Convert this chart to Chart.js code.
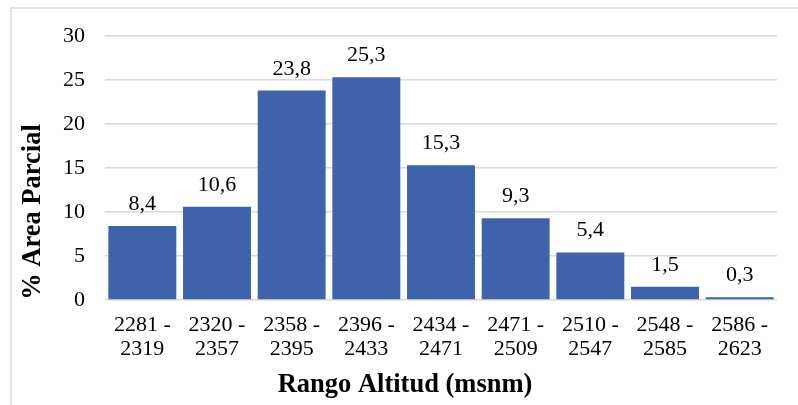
<!DOCTYPE html>
<html>
<head>
<meta charset="utf-8">
<script src="https://cdn.jsdelivr.net/npm/chart.js@4/dist/chart.umd.min.js"></script>
<style>
  html, body { margin: 0; padding: 0; background: #fff; }
  #wrap { width: 798px; height: 405px; position: relative; }
</style>
</head>
<body>
<div id="wrap"><canvas id="c"></canvas></div>
<script>
// Altitude ranges (msnm) and share of partial area per range (%)
const rangeStart = ['2281', '2320', '2358', '2396', '2434', '2471', '2510', '2548', '2586'];
const rangeEnd   = ['2319', '2357', '2395', '2433', '2471', '2509', '2547', '2585', '2623'];
const areaPct    = [8.4, 10.6, 23.8, 25.3, 15.3, 9.3, 5.4, 1.5, 0.3];
const yTicks     = [0, 5, 10, 15, 20, 25, 30];

const xTitle = 'Rango Altitud (msnm)';
const yTitle = '% Area Parcial';

const labels = rangeStart.map((s, i) => [s + ' -', rangeEnd[i]]);

const SERIF = "'Liberation Serif', 'Times New Roman', serif";
const GRID = '#d9d9d9';

// Thin frame around the chart, value labels and axis titles
const decorations = {
  id: 'decorations',
  beforeDraw(chart) {
    const ctx = chart.ctx;
    ctx.save();
    ctx.strokeStyle = GRID;
    ctx.lineWidth = 1.5;
    ctx.beginPath();
    ctx.moveTo(11, chart.height + 2);
    ctx.lineTo(11, 8);
    ctx.lineTo(chart.width + 2, 8);
    ctx.stroke();
    ctx.restore();
  },
  afterDatasetsDraw(chart) {
    const ctx = chart.ctx;
    const meta = chart.getDatasetMeta(0);
    const data = chart.data.datasets[0].data;
    ctx.save();
    ctx.fillStyle = '#000';
    ctx.font = '22px ' + SERIF;
    ctx.textAlign = 'center';
    ctx.textBaseline = 'alphabetic';
    meta.data.forEach((bar, i) => {
      const txt = data[i].toFixed(1).replace('.', ',');
      ctx.fillText(txt, bar.x, bar.y - 16);
    });
    ctx.restore();
  },
  afterDraw(chart) {
    const ctx = chart.ctx;
    ctx.save();
    ctx.fillStyle = '#000';
    ctx.font = 'bold 26.5px ' + SERIF;
    ctx.textBaseline = 'middle';
    ctx.textAlign = 'center';
    ctx.fillText(xTitle, 405, 385);
    ctx.translate(33, 212);
    ctx.rotate(-Math.PI / 2);
    ctx.fillText(yTitle, 0, 0);
    ctx.restore();
  }
};

new Chart(document.getElementById('c'), {
  type: 'bar',
  data: {
    labels: labels,
    datasets: [{
      data: areaPct,
      backgroundColor: '#3E63AB',
      borderWidth: 0,
      barPercentage: 0.91,
      categoryPercentage: 1.0
    }]
  },
  options: {
    responsive: true,
    maintainAspectRatio: false,
    animation: false,
    devicePixelRatio: 1,
    layout: { padding: { top: 36, right: 21, bottom: 0, left: 0 } },
    plugins: {
      legend: { display: false },
      tooltip: { enabled: false }
    },
    scales: {
      x: {
        grid: { display: false, drawTicks: false },
        border: { display: false },
        ticks: {
          color: '#000',
          font: { family: SERIF, size: 22, lineHeight: 1.09 },
          padding: 13,
          maxRotation: 0,
          autoSkip: false
        },
        afterFit(scale) { scale.height = 105; }
      },
      y: {
        min: 0,
        max: 30,
        grid: { color: GRID, lineWidth: 1.5, drawTicks: false },
        border: { display: false },
        afterBuildTicks(scale) { scale.ticks = yTicks.map(v => ({ value: v })); },
        ticks: {
          color: '#000',
          font: { family: SERIF, size: 22 },
          padding: 20
        },
        afterFit(scale) { scale.width = 105; }
      }
    }
  },
  plugins: [decorations]
});
</script>
</body>
</html>
